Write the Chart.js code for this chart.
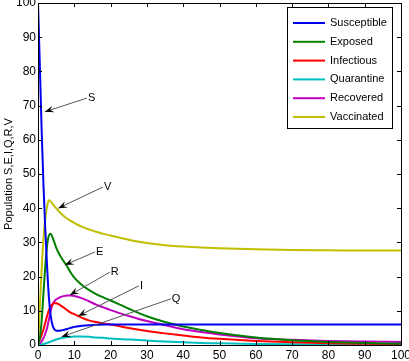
<!DOCTYPE html>
<html>
<head>
<meta charset="utf-8">
<script src="https://cdn.jsdelivr.net/npm/chart.js@4"></script>
<style>
  html, body { margin: 0; padding: 0; background: #fff; }
</style>
</head>
<body>
<canvas id="seiqrvChart" width="409" height="361"></canvas>
<script>
// time points (days) - finer sampling at the start where curves change fast
const timeDays = [0, 0.5, 1, 1.5, 2, 2.5, 3, 3.5, 4, 4.5, 5, 6, 7, 8, 9, 10, 12, 14, 16, 18, 20, 25, 30, 35, 40, 45, 50, 60, 70, 80, 90, 100];

const susceptible = [100, 82, 63, 47, 34, 23, 14, 8.5, 5.8, 4.6, 4.2, 4.2, 4.4, 4.7, 5, 5.3, 5.6, 5.8, 5.9, 6, 6, 6, 6, 6, 6, 6, 6, 6, 6, 6, 6, 6];
const exposed = [0, 2, 7, 15, 23, 29, 32, 32.5, 31.5, 30, 28.5, 26.3, 24.6, 23, 21.2, 19.7, 17.6, 16.1, 14.9, 13.9, 13, 10.6, 8.4, 6.7, 5.4, 4.4, 3.5, 2.2, 1.4, 0.9, 0.6, 0.4];
const infectious = [1, 1.5, 3, 4.5, 6.5, 8.5, 10.2, 11.3, 11.9, 12.2, 12.2, 11.7, 11, 10.2, 9.5, 9, 8, 7.2, 6.7, 6.3, 6, 5, 4.1, 3.4, 2.8, 2.2, 1.8, 1.2, 0.8, 0.5, 0.35, 0.25];
const quarantine = [0, 0.05, 0.15, 0.3, 0.45, 0.6, 0.8, 1, 1.2, 1.4, 1.6, 1.9, 2.1, 2.3, 2.4, 2.5, 2.5, 2.4, 2.2, 2.1, 1.9, 1.6, 1.3, 1, 0.8, 0.6, 0.5, 0.3, 0.2, 0.15, 0.1, 0.05];
const recovered = [0, 0.3, 1, 2, 3.3, 5, 7.5, 10, 11.8, 12.8, 13.3, 13.9, 14.3, 14.5, 14.5, 14.3, 13.7, 12.8, 11.8, 11, 10.2, 8.5, 7, 5.8, 4.6, 3.8, 3.1, 2, 1.5, 1.2, 1, 0.9];
const vaccinated = [0, 11, 22, 31, 37, 40.5, 42.3, 42, 41.3, 40.6, 40, 38.8, 37.8, 37, 36.3, 35.7, 34.6, 33.8, 33.1, 32.5, 32, 30.8, 29.8, 29.2, 28.8, 28.5, 28.3, 28, 27.8, 27.7, 27.6, 27.6];

const seriesNames = ["Susceptible", "Exposed", "Infectious", "Quarantine", "Recovered", "Vaccinated"];
const seriesColors = ["#0000ee", "#008000", "#ff0000", "#00bfbf", "#bf00bf", "#bfbf00"];
const seriesValues = [susceptible, exposed, infectious, quarantine, recovered, vaccinated];

const axisTicks = [0, 10, 20, 30, 40, 50, 60, 70, 80, 90, 100];

// text arrows: label at the tail, head pointing at the curve
const arrowLabels = ["S", "V", "E", "R", "I", "Q"];
const arrowTailX = [13.5, 17.9, 15.7, 19.8, 27.8, 36.6];
const arrowTailY = [72.2, 46.2, 27.2, 21.3, 17.3, 13.5];
const arrowTipX = [1.9, 5.6, 7.4, 8.8, 11.1, 6.5];
const arrowTipY = [68.2, 40.0, 23.4, 14.6, 8.5, 2.4];

const fontFamily = "'Liberation Sans', Arial, Helvetica, sans-serif";

const matlabLook = {
  id: "matlabLook",
  afterDatasetsDraw(chart) {
    const ctx = chart.ctx;
    const area = chart.chartArea;
    const xs = chart.scales.x;
    const ys = chart.scales.y;

    ctx.save();

    // arrows
    ctx.font = "11px " + fontFamily;
    for (let i = 0; i < arrowLabels.length; i++) {
      const x0 = xs.getPixelForValue(arrowTailX[i]);
      const y0 = ys.getPixelForValue(arrowTailY[i]);
      const x1 = xs.getPixelForValue(arrowTipX[i]);
      const y1 = ys.getPixelForValue(arrowTipY[i]);
      ctx.strokeStyle = "#555";
      ctx.lineWidth = 1;
      ctx.beginPath();
      ctx.moveTo(x0, y0);
      ctx.lineTo(x1, y1);
      ctx.stroke();

      const ang = Math.atan2(y1 - y0, x1 - x0);
      const len = 9, half = 3.5;
      const bx = x1 - len * Math.cos(ang), by = y1 - len * Math.sin(ang);
      const nx = x1 - len * 0.6 * Math.cos(ang), ny = y1 - len * 0.6 * Math.sin(ang);
      ctx.fillStyle = "#000";
      ctx.beginPath();
      ctx.moveTo(x1, y1);
      ctx.lineTo(bx - half * Math.sin(ang), by + half * Math.cos(ang));
      ctx.lineTo(nx, ny);
      ctx.lineTo(bx + half * Math.sin(ang), by - half * Math.cos(ang));
      ctx.closePath();
      ctx.fill();

      ctx.textAlign = "left";
      ctx.textBaseline = "middle";
      ctx.fillText(arrowLabels[i], x0 + 1, y0);
    }

    // box and inward ticks on all sides
    ctx.strokeStyle = "#000";
    ctx.lineWidth = 1;
    ctx.strokeRect(Math.round(area.left) + 0.5, Math.round(area.top) + 0.5,
      Math.round(area.right - area.left), Math.round(area.bottom - area.top));
    const tl = 4;
    ctx.beginPath();
    axisTicks.forEach((v) => {
      const px = Math.round(xs.getPixelForValue(v)) + 0.5;
      ctx.moveTo(px, area.bottom);
      ctx.lineTo(px, area.bottom - tl);
      ctx.moveTo(px, area.top);
      ctx.lineTo(px, area.top + tl);
      const py = Math.round(ys.getPixelForValue(v)) + 0.5;
      ctx.moveTo(area.left, py);
      ctx.lineTo(area.left + tl, py);
      ctx.moveTo(area.right, py);
      ctx.lineTo(area.right - tl, py);
    });
    ctx.stroke();

    // legend box
    const lx = 287, ly = 7, lw = 105, lh = 121;
    ctx.fillStyle = "#fff";
    ctx.fillRect(lx, ly, lw, lh);
    ctx.strokeStyle = "#000";
    ctx.strokeRect(lx + 0.5, ly + 0.5, lw, lh);
    ctx.font = "11px " + fontFamily;
    ctx.textAlign = "left";
    ctx.textBaseline = "middle";
    chart.data.datasets.forEach((ds, i) => {
      const rowY = 23 + i * 18.8;
      ctx.strokeStyle = ds.borderColor;
      ctx.lineWidth = 2;
      ctx.beginPath();
      ctx.moveTo(lx + 6, rowY);
      ctx.lineTo(lx + 38, rowY);
      ctx.stroke();
      ctx.fillStyle = "#000";
      ctx.fillText(ds.label, lx + 43, rowY);
    });

    ctx.restore();
  },
};

const ctx = document.getElementById("seiqrvChart");

new Chart(ctx, {
  type: "line",

  data: {
    datasets: seriesNames.map((name, i) => ({
      label: name,
      data: timeDays.map((t, j) => ({ x: t, y: seriesValues[i][j] })),
      borderColor: seriesColors[i],
      borderWidth: 2,
      pointRadius: 0,
      fill: false,
      cubicInterpolationMode: "monotone",
    })),
  },

  options: {
    responsive: false,
    animation: false,
    devicePixelRatio: 1,

    layout: {
      padding: { top: 3, right: 8, left: 0, bottom: 0 },
    },

    plugins: {
      legend: { display: false },
      tooltip: { enabled: false },
    },

    scales: {
      x: {
        type: "linear",
        min: 0,
        max: 100,
        afterBuildTicks: (scale) => {
          scale.ticks = axisTicks.map((v) => ({ value: v }));
        },
        afterFit: (scale) => {
          scale.height = 16;
          scale.paddingLeft = 0;
          scale.paddingRight = 0;
        },
        ticks: {
          color: "#000",
          font: { size: 12, family: fontFamily },
          padding: 3,
          maxRotation: 0,
        },
        grid: { display: false, drawTicks: false },
        border: { display: false },
      },

      y: {
        min: 0,
        max: 100,
        afterBuildTicks: (scale) => {
          scale.ticks = axisTicks.map((v) => ({ value: v }));
        },
        afterFit: (scale) => {
          scale.width = 38;
          scale.paddingTop = 0;
          scale.paddingBottom = 0;
        },
        ticks: {
          color: "#000",
          font: { size: 12, family: fontFamily },
          padding: 2,
        },
        title: {
          display: true,
          text: "Population S,E,I,Q,R,V",
          color: "#000",
          font: { size: 11, family: fontFamily },
          padding: 2,
        },
        grid: { display: false, drawTicks: false },
        border: { display: false },
      },
    },
  },

  plugins: [matlabLook],
});
</script>
</body>
</html>
